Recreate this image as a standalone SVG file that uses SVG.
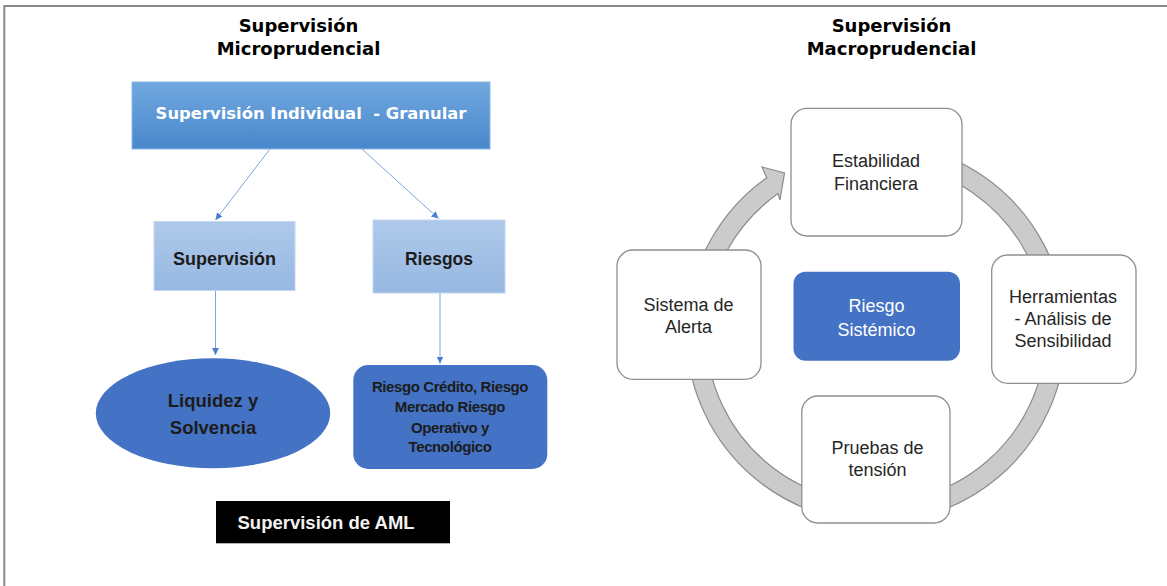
<svg xmlns="http://www.w3.org/2000/svg" width="1167" height="586" viewBox="0 0 1167 586">
<defs>
<linearGradient id="gTop" x1="0" y1="0" x2="0" y2="1">
<stop offset="0" stop-color="#71a8df"/>
<stop offset="1" stop-color="#4987cc"/>
</linearGradient>
<linearGradient id="gLight" x1="0" y1="0" x2="0" y2="1">
<stop offset="0" stop-color="#aec9ea"/>
<stop offset="1" stop-color="#97b8e2"/>
</linearGradient>
<marker id="ah" markerUnits="userSpaceOnUse" markerWidth="8" markerHeight="8" refX="7" refY="3.5" orient="auto">
<path d="M0,0 L7,3.5 L0,7 Z" fill="#4a7fd0"/>
</marker>
</defs>
<style>
.title{font-family:"DejaVu Sans",sans-serif;font-weight:bold;font-size:18px;fill:#000;text-anchor:middle}
.btext{font-family:"Liberation Sans",Arial,sans-serif;font-weight:bold;fill:#1c1c1c;text-anchor:middle}
.wtext{font-family:"Liberation Sans",Arial,sans-serif;font-size:18px;fill:#262626;text-anchor:middle}
.wbox{fill:#ffffff;stroke:#8f8f8f;stroke-width:1.3}
.blue{fill:#4472c4}
.conn{stroke:#7ea6de;stroke-width:1;fill:none}
</style>
<rect x="0" y="0" width="1167" height="586" fill="#ffffff"/>
<path d="M4.3,586 V6 H1167" fill="none" stroke="#8a8a8a" stroke-width="2"/>

<text class="title" x="298.5" y="31.5">Supervisión</text>
<text class="title" x="298.5" y="55">Microprudencial</text>
<text class="title" x="891.5" y="31.5">Supervisión</text>
<text class="title" x="891.5" y="55" font-size="18.5">Macroprudencial</text>

<g id="connectors">
<line class="conn" x1="270" y1="149" x2="215.5" y2="220" marker-end="url(#ah)"/>
<line class="conn" x1="362" y1="149" x2="438.5" y2="218.5" marker-end="url(#ah)"/>
<line class="conn" x1="215.5" y1="291" x2="215.5" y2="355" marker-end="url(#ah)"/>
<line class="conn" x1="440" y1="293" x2="440" y2="363.5" marker-end="url(#ah)"/>
<path id="cycle" d="M908.9,145.9 A189.5,189.5 0 1 1 766.8,177.7 L762,167 L784.5,173 L780,200 L778,193.6 A170,170 0 1 0 905.5,165.1 Z" fill="#cbcbcb" stroke="#8c8c8c" stroke-width="1.2"/>
</g>

<g id="node-individual">
<rect x="132" y="82" width="358" height="67" fill="url(#gTop)" stroke="#8db6e6" stroke-width="1"/>
<text x="311" y="119" xml:space="preserve" style="font-family:'DejaVu Sans',sans-serif;font-weight:bold;font-size:16.4px;fill:#ffffff;text-anchor:middle">Supervisión Individual  - Granular</text>
</g>
<g id="node-supervision">
<rect x="154" y="221.5" width="141" height="69" fill="url(#gLight)" stroke="#c4d7f0" stroke-width="1"/>
<text class="btext" x="224.5" y="265" font-size="18">Supervisión</text>
</g>
<g id="node-riesgos">
<rect x="373" y="220" width="132" height="73" fill="url(#gLight)" stroke="#c4d7f0" stroke-width="1"/>
<text class="btext" x="439" y="265" font-size="17.5">Riesgos</text>
</g>
<g id="node-liquidez">
<ellipse class="blue" cx="213" cy="413.3" rx="117.2" ry="55"/>
<text class="btext" x="213" y="407.3" font-size="18.5">Liquidez y</text>
<text class="btext" x="213" y="434" font-size="18.5">Solvencia</text>
</g>
<g id="node-riesgos-detalle">
<rect class="blue" x="353.3" y="365" width="194" height="104" rx="15"/>
<g class="btext" font-size="15" letter-spacing="-0.4">
<text x="450" y="391.7">Riesgo Crédito, Riesgo</text>
<text x="450" y="411.7">Mercado Riesgo</text>
<text x="450" y="432.7">Operativo y</text>
<text x="450" y="452.3">Tecnológico</text>
</g>
</g>
<g id="node-aml">
<rect x="216" y="501" width="234" height="42.3" fill="#000000"/>
<text x="237.5" y="529.3" style="font-family:'Liberation Sans',Arial,sans-serif;font-weight:bold;font-size:18.5px;fill:#f2f2f2">Supervisión de AML</text>
</g>

<g id="node-estabilidad">
<rect class="wbox" x="791" y="108.3" width="171" height="127.7" rx="16"/>
<text class="wtext" x="876" y="166.7">Estabilidad</text>
<text class="wtext" x="876" y="190">Financiera</text>
</g>
<g id="node-sistema">
<rect class="wbox" x="617" y="250" width="144" height="129.3" rx="16"/>
<text class="wtext" x="688.5" y="310.7">Sistema de</text>
<text class="wtext" x="688.5" y="332.7">Alerta</text>
</g>
<g id="node-riesgo-sistemico">
<rect class="blue" x="793.5" y="271.7" width="166.5" height="89" rx="12"/>
<text class="wtext" x="876.5" y="311.7" font-size="18.5" style="fill:#ffffff">Riesgo</text>
<text class="wtext" x="876.5" y="336" font-size="18.5" style="fill:#ffffff">Sistémico</text>
</g>
<g id="node-herramientas">
<rect class="wbox" x="991.7" y="255" width="144.3" height="128.3" rx="16"/>
<text class="wtext" x="1063" y="303.3">Herramientas</text>
<text class="wtext" x="1063" y="325">- Análisis de</text>
<text class="wtext" x="1063" y="347.3">Sensibilidad</text>
</g>
<g id="node-pruebas">
<rect class="wbox" x="801.8" y="396" width="148.2" height="127" rx="16"/>
<text class="wtext" x="877.5" y="454">Pruebas de</text>
<text class="wtext" x="877.5" y="476">tensión</text>
</g>
</svg>
